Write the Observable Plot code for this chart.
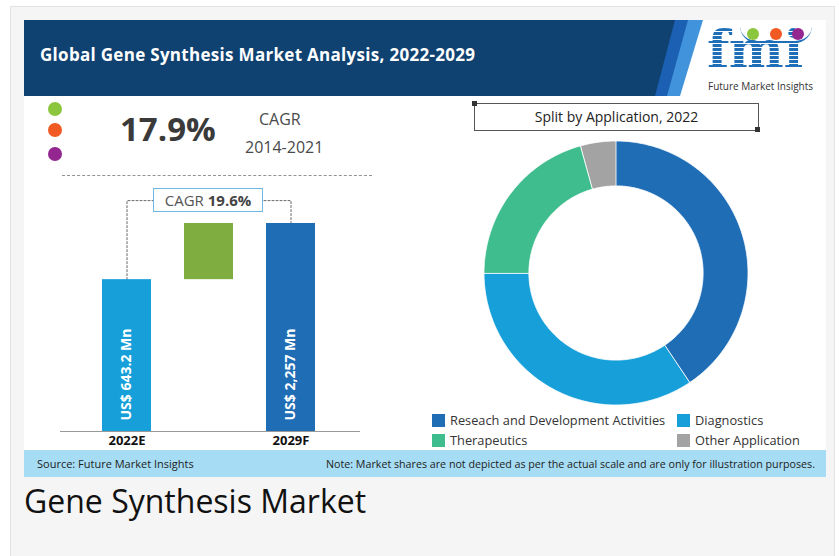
<!DOCTYPE html>
<html>
<head>
<meta charset="utf-8">
<script src="https://cdn.jsdelivr.net/npm/d3@7"></script>
<script src="https://cdn.jsdelivr.net/npm/@observablehq/plot@0.6"></script>
<style>
  body { margin: 0; background: #ffffff; font-family: "Open Sans", sans-serif; }
  #page { position: relative; width: 839px; height: 556px; overflow: hidden; }
  .abs { position: absolute; }
  .narrow { font-family: "Liberation Sans Narrow", "Open Sans", sans-serif; }
  .dot { position: absolute; width: 14px; height: 14px; border-radius: 50%; }
  .sw { position: absolute; width: 13px; height: 13px; }
  .lg { position: absolute; font-size: 12.8px; color: #333; line-height: 16px; white-space: nowrap; }
</style>
</head>
<body>
<div id="page">
  <div class="abs" style="left:10px;top:6px;width:823px;height:560px;background:#f5f5f5;border:1px solid #e3e3e3;"></div>
  <div class="abs" style="left:24px;top:20px;width:802px;height:457px;background:#ffffff;"></div>

  <!-- title band -->
  <div class="abs" style="left:24px;top:20px;width:690px;height:76px;background:#4193dc;clip-path:polygon(0 0,679px 0,656px 76px,0 76px);"></div>
  <div class="abs" style="left:24px;top:20px;width:690px;height:76px;background:#1b60b3;clip-path:polygon(0 0,664px 0,643px 76px,0 76px);"></div>
  <div class="abs" style="left:24px;top:20px;width:690px;height:76px;background:#0f4271;clip-path:polygon(0 0,651px 0,631px 76px,0 76px);"></div>
  <div id="title" class="abs" style="left:40px;top:42px;color:#fff;font-weight:700;font-size:17px;letter-spacing:0.3px;line-height:26px;white-space:nowrap;"></div>

  <!-- logo -->
  <div class="abs" style="left:707px;top:28px;font-family:'DejaVu Serif',serif;font-weight:700;font-size:52px;line-height:44px;letter-spacing:-0.5px;color:#1e6fb8;background:repeating-linear-gradient(180deg,#1e6fb8 0px,#1e6fb8 3px,#ffffff 3px,#ffffff 4px);-webkit-background-clip:text;background-clip:text;-webkit-text-fill-color:transparent;">fmi</div>
  <div class="abs" style="left:747px;top:28px;width:12px;height:12px;border-radius:50%;background:#8cc63e;"></div>
  <div class="abs" style="left:770px;top:28px;width:12px;height:12px;border-radius:50%;background:#f15a22;"></div>
  <div class="abs" style="left:792px;top:28px;width:12px;height:12px;border-radius:50%;background:#93268f;"></div>
  <div class="abs" style="left:740px;top:26px;width:72px;height:15px;border-bottom:2.5px solid #1e6fb8;border-radius:0 0 40px 40px;"></div>
  <div class="abs narrow" style="left:708px;top:81px;font-size:10px;line-height:10px;color:#333;white-space:nowrap;">Future Market Insights</div>

  <!-- historic CAGR block -->
  <div class="dot" style="left:48px;top:102px;background:#8cc63e;"></div>
  <div class="dot" style="left:48px;top:123px;background:#f15a22;"></div>
  <div class="dot" style="left:48px;top:147px;background:#93268f;"></div>
  <div id="histCagr" class="abs" style="left:120px;top:109px;font-size:33px;font-weight:700;color:#3a3a3a;line-height:40px;"></div>
  <div class="abs" style="left:259px;top:108px;font-size:16px;color:#4a4a4a;line-height:22px;">CAGR</div>
  <div id="histPeriod" class="abs" style="left:245px;top:136px;font-size:16px;color:#4a4a4a;line-height:22px;"></div>
  <div class="abs" style="left:62px;top:175px;width:310px;height:0;border-top:1px dashed #666;opacity:0.7;"></div>

  <div id="bars" class="abs" style="left:40px;top:180px;"></div>
  <div id="cagrBox" class="abs" style="left:153px;top:188px;width:108px;height:22px;border:1.5px solid #6fb6e6;background:#fff;font-size:15px;color:#555;line-height:22px;text-align:center;white-space:nowrap;"></div>

  <!-- donut -->
  <div class="abs" style="left:474px;top:103px;width:283px;height:26px;border:1px solid #555;"></div>
  <div class="abs" style="left:472px;top:101px;width:5px;height:5px;background:#333;"></div>
  <div class="abs" style="left:755px;top:127px;width:5px;height:5px;background:#333;"></div>
  <div class="abs" style="left:474px;top:104px;width:285px;text-align:center;font-size:14px;color:#222;line-height:26px;">Split by Application, 2022</div>
  <div id="donut" class="abs" style="left:476px;top:133px;"></div>
  <div id="legend"></div>

  <!-- source band -->
  <div class="abs" style="left:24px;top:450px;width:802px;height:27px;background:#a7ddf4;"></div>
  <div class="abs narrow" style="left:37px;top:457px;font-size:11px;color:#222;white-space:nowrap;line-height:14px;">Source: Future Market Insights</div>
  <div class="abs narrow" style="right:24px;top:457px;font-size:10.7px;color:#222;white-space:nowrap;line-height:14px;">Note: Market shares are not depicted as per the actual scale and are only for illustration purposes.</div>

  <div class="abs" style="left:24px;top:482px;font-size:32px;color:#111;line-height:38px;white-space:nowrap;">Gene Synthesis Market</div>
</div>

<script>
// ---------------- data ----------------
const chartTitle = "Global Gene Synthesis Market Analysis, 2022-2029";
const historicCagr = "17.9%";
const historicPeriod = "2014-2021";
const forecastCagr = "19.6%";

const years = ["2022E", "2029F"];
const marketValues = [643.2, 2257];            // US$ Mn
const valueLabels = ["US$ 643.2 Mn", "US$ 2,257 Mn"];
const shownHeights = [73, 100];                // illustrative bar heights (not to scale)
const barColors = ["#179fd9", "#80ad3f", "#1f6db5"];

const applications = ["Reseach and Development Activities", "Diagnostics", "Therapeutics", "Other Application"];
const applicationShares = [40.6, 34.4, 20.7, 4.3];
const applicationColors = ["#1f6db5", "#179fd9", "#3fbd8f", "#a3a3a3"];

// ---------------- text ----------------
document.getElementById("title").textContent = chartTitle;
document.getElementById("histCagr").textContent = historicCagr;
document.getElementById("histPeriod").textContent = historicPeriod;
document.getElementById("cagrBox").innerHTML = "CAGR <b style='color:#444'>" + forecastCagr + "</b>";

// ---------------- bar (waterfall) chart ----------------
const growthKey = "growth";
const barCats = [years[0], growthKey, years[1]];
const bars = [
  {cat: years[0], y1: 0, y2: shownHeights[0], fill: barColors[0]},
  {cat: growthKey, y1: shownHeights[0], y2: shownHeights[1], fill: barColors[1]},
  {cat: years[1], y1: 0, y2: shownHeights[1], fill: barColors[2]}
];
const connectorLevel = 111;
const connector = [
  {cat: years[0], v: shownHeights[0]},
  {cat: years[0], v: connectorLevel},
  {cat: years[1], v: connectorLevel},
  {cat: years[1], v: shownHeights[1]}
];
const barLabels = years.map((y, i) => ({cat: y, label: valueLabels[i], value: marketValues[i]}));

const barPlot = Plot.plot({
  width: 340,
  height: 280,
  marginLeft: 20,
  marginRight: 20,
  marginTop: 43,
  marginBottom: 29,
  style: {fontFamily: "'Open Sans', sans-serif", fontSize: "13px", fontWeight: "bold", color: "#111", background: "transparent"},
  x: {type: "band", domain: barCats, range: [28, 308.5], padding: 0.4, label: null, tickSize: 0, tickPadding: 4,
      tickFormat: d => d === growthKey ? "" : d},
  y: {domain: [0, 100], axis: null},
  marks: [
    Plot.line(connector, {x: "cat", y: "v", stroke: "#666", strokeWidth: 1, strokeDasharray: "2,2"}),
    Plot.barY(bars, {x: "cat", y1: "y1", y2: "y2", fill: d => d.fill}),
    Plot.ruleY([0], {stroke: "#999", strokeWidth: 1.2}),
    Plot.text(barLabels, {x: "cat", y: () => 0, text: "label", rotate: -90, textAnchor: "start", dy: -11,
      fill: "#ffffff", fontSize: 14, fontWeight: "bold"})
  ]
});
document.getElementById("bars").appendChild(barPlot);

// ---------------- donut ----------------
const innerRatio = 0.66;
const ring = [];
let acc = 0;
applications.forEach((name, i) => {
  const a0 = acc / 100 * 2 * Math.PI;
  acc += applicationShares[i];
  const a1 = acc / 100 * 2 * Math.PI;
  const n = Math.max(2, Math.ceil((a1 - a0) / (Math.PI / 180)));
  for (let k = 0; k <= n; k++) {
    const a = a0 + (a1 - a0) * k / n;
    ring.push({name, ox: Math.sin(a), oy: Math.cos(a), ix: innerRatio * Math.sin(a), iy: innerRatio * Math.cos(a)});
  }
});

const donutPlot = Plot.plot({
  width: 280,
  height: 280,
  margin: 8,
  style: {background: "transparent"},
  x: {domain: [-1, 1], axis: null},
  y: {domain: [-1, 1], axis: null},
  color: {domain: applications, range: applicationColors},
  marks: [
    Plot.area(ring, {x1: "ox", y1: "oy", x2: "ix", y2: "iy", z: "name", fill: "name", stroke: "#ffffff", strokeWidth: 0.8})
  ]
});
document.getElementById("donut").appendChild(donutPlot);

// ---------------- legend ----------------
const legendPos = [[432, 414], [677, 414], [432, 434], [677, 434]];
const legend = document.getElementById("legend");
applications.forEach((name, i) => {
  const [lx, ly] = legendPos[i];
  const sw = document.createElement("div");
  sw.className = "sw";
  sw.style.left = lx + "px"; sw.style.top = ly + "px"; sw.style.background = applicationColors[i];
  legend.appendChild(sw);
  const t = document.createElement("div");
  t.className = "lg";
  t.style.left = (lx + 18) + "px"; t.style.top = (ly - 2) + "px";
  t.textContent = name;
  legend.appendChild(t);
});
</script>
</body>
</html>
